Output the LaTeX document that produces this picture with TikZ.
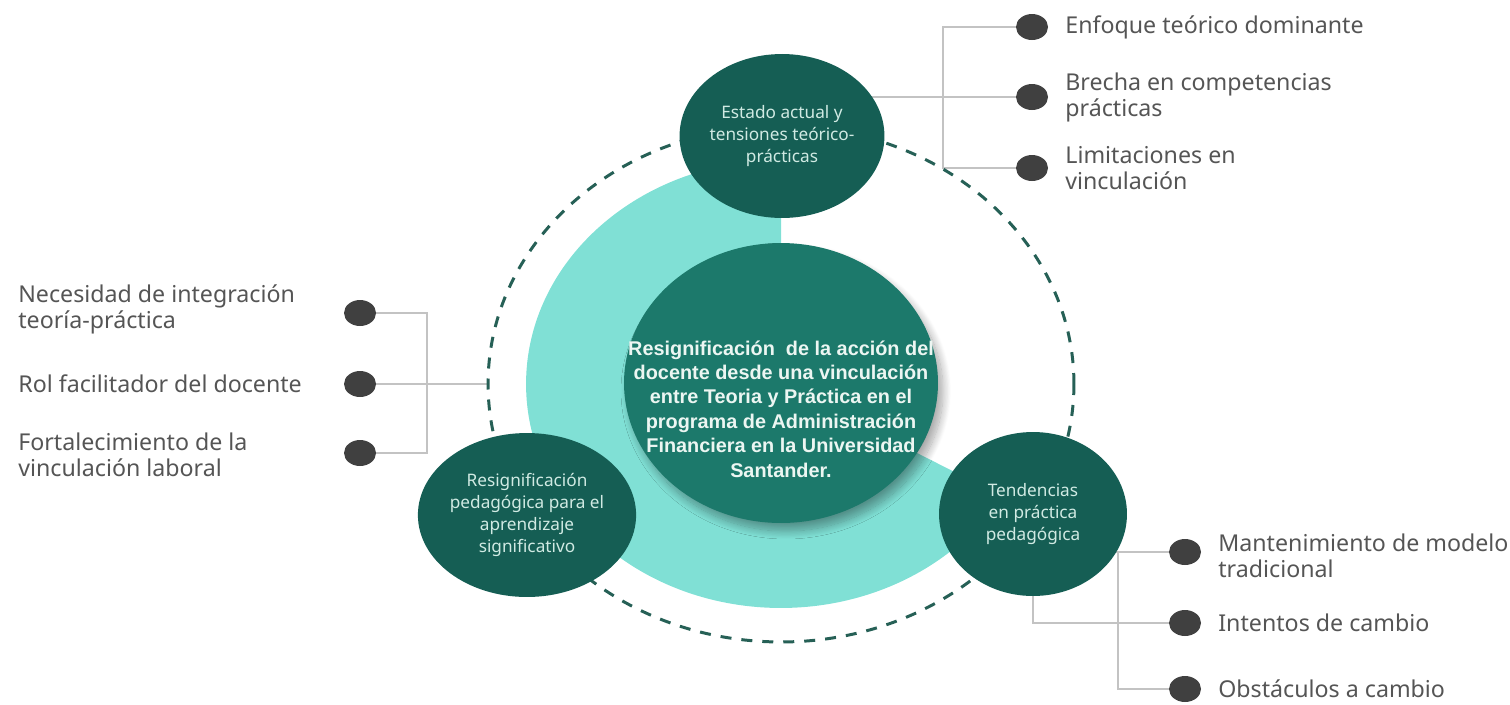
\documentclass[tikz,border=0pt]{standalone}
\usepackage{fontspec}
\setmainfont{Noto Sans}
\newfontfamily\corefont{Liberation Sans}
\usetikzlibrary{shapes.geometric,shadows.blur,backgrounds}

\definecolor{satgreen}{RGB}{21,94,84}
\definecolor{coregreen}{RGB}{28,121,107}
\definecolor{ringteal}{RGB}{128,224,213}
\definecolor{orbitgreen}{RGB}{38,96,86}
\definecolor{dotgray}{RGB}{64,64,64}
\definecolor{linegray}{RGB}{195,195,195}
\definecolor{labelgray}{RGB}{85,85,85}
\definecolor{sattext}{RGB}{208,234,227}
\definecolor{coretext}{RGB}{236,246,242}

\tikzset{
  sat/.style={ellipse, fill=satgreen, minimum width=3.76cm, minimum height=3.28cm,
    inner sep=0pt, text=sattext, align=center, font=\fontsize{9.8}{12.5}\selectfont},
  bulletdot/.style={ellipse, fill=dotgray, minimum width=0.64cm, minimum height=0.52cm, inner sep=0pt},
  lbl/.style={anchor=west, align=left, text=labelgray, inner sep=0pt,
    font=\fontsize{13.2}{14.8}\selectfont},
  conn/.style={draw=linegray, line width=0.6pt},
}

\begin{document}
\begin{tikzpicture}[x=0.02cm, y=-0.02cm]
\useasboundingbox (0,0) rectangle (1510,704);
% ring and orbit
\fill[ringteal] (781,384) -- ++(90:4.48cm) arc[start angle=90, end angle=330, x radius=5.1cm, y radius=4.48cm] -- cycle;
\node[ellipse, draw=orbitgreen, line width=1.7pt, dash pattern=on 0.22cm off 0.2cm,
  minimum width=11.72cm, minimum height=10.32cm, inner sep=0pt] (orbit) at (781,384) {};
% core
\node[ellipse, fill=coregreen, minimum width=6.28cm, minimum height=5.6cm, inner sep=0pt,
  blur shadow={shadow xshift=0.1cm, shadow yshift=-0.16cm, shadow blur steps=14, shadow blur radius=0.16cm, shadow opacity=35, shadow scale=1}] (core) at (781,383) {};
\node[text=coretext, align=center, font=\corefont\bfseries\fontsize{11.3}{13.9}\selectfont] (title) at (781,409)
  {Resignificación\ \ de la acción del\\ docente desde una vinculación\\ entre Teoria y Práctica en el\\ programa de Administración\\ Financiera en la Universidad\\ Santander.};
% satellites
\node[sat] (estado) at (782,136) {Estado actual y\\ tensiones teórico-\\ prácticas};
\node[sat] (resig) at (527,515) {Resignificación\\ pedagógica para el\\ aprendizaje\\ significativo};
\node[sat] (tend) at (1033,514) {Tendencias\\ en práctica\\ pedagógica};
% top right
\node[bulletdot] (e1) at (1032,27) {};
\node[bulletdot] (e2) at (1032,97) {};
\node[bulletdot] (e3) at (1032,168) {};
\node[lbl] (le1) at (1065,27) {Enfoque teórico dominante};
\node[lbl] (le2) at (1065,97) {Brecha en competencias\\ prácticas};
\node[lbl] (le3) at (1065,168) {Limitaciones en\\ vinculación};
% left
\node[bulletdot] (n1) at (360,313) {};
\node[bulletdot] (n2) at (360,384) {};
\node[bulletdot] (n3) at (360,453) {};
\node[lbl] (ln1) at (18,309) {Necesidad de integración\\ teoría-práctica};
\node[lbl] (ln2) at (18,384) {Rol facilitador del docente};
\node[lbl] (ln3) at (18,455) {Fortalecimiento de la\\ vinculación laboral};
% bottom right
\node[bulletdot] (m1) at (1185,552) {};
\node[bulletdot] (m2) at (1185,623) {};
\node[bulletdot] (m3) at (1185,689) {};
\node[lbl] (lm1) at (1218,556) {Mantenimiento de modelo\\ tradicional};
\node[lbl] (lm2) at (1218,623) {Intentos de cambio};
\node[lbl] (lm3) at (1218,689) {Obstáculos a cambio};
% connectors
\coordinate (ev) at (943,27);
\coordinate (nv) at (427,313);
\coordinate (mv) at (1118,552);
\begin{pgfonlayer}{background}
\draw[conn] (estado) |- (e2);
\draw[conn] (e1) -- (ev) |- (e3);
\draw[conn] (n2) -- (orbit.west);
\draw[conn] (n1) -- (nv) |- (n3);
\draw[conn] (tend) |- (m1);
\draw[conn] (mv) |- (m3);
\draw[conn] (tend) |- (m2);
\end{pgfonlayer}
\end{tikzpicture}
\end{document}
